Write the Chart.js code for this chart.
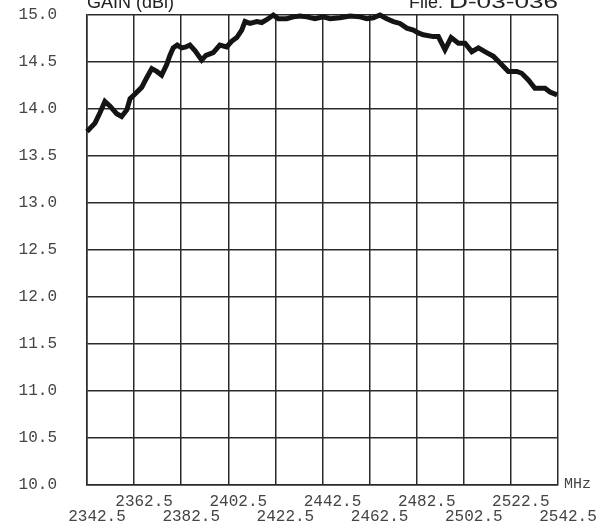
<!DOCTYPE html>
<html>
<head>
<meta charset="utf-8">
<script src="https://cdn.jsdelivr.net/npm/chart.js@4.4.1/dist/chart.umd.min.js"></script>
<style>
  html, body { margin: 0; padding: 0; background: #ffffff; }
  #wrap { width: 601px; height: 528px; }
</style>
</head>
<body>
<div id="wrap"><canvas id="c" width="601" height="528"></canvas></div>
<script>
// Frequency (MHz) of each read point
const FREQ = [
  2342.5, 2345.9, 2348.0, 2350.1, 2352.3, 2355.1, 2357.2, 2359.4, 2360.8, 2362.9,
  2365.7, 2367.8, 2370.0, 2372.1, 2374.2, 2376.3, 2377.7, 2379.1, 2380.8, 2382.7,
  2384.5, 2386.2, 2388.4, 2391.2, 2393.0, 2396.1, 2398.9, 2401.8, 2403.9, 2406.1,
  2408.2, 2409.6, 2411.7, 2414.6, 2416.7, 2418.8, 2421.6, 2423.7, 2427.3, 2430.1,
  2432.9, 2435.8, 2439.3, 2442.8, 2445.7, 2449.9, 2454.2, 2458.4, 2461.3, 2464.1,
  2466.9, 2469.8, 2472.6, 2475.4, 2478.3, 2481.1, 2483.2, 2485.3, 2489.5, 2491.7,
  2494.5, 2497.1, 2500.2, 2503.0, 2505.9, 2508.7, 2512.2, 2515.1, 2517.9, 2521.4,
  2525.0, 2527.1, 2529.9, 2532.7, 2534.9, 2537.0, 2539.1, 2542.1
];
// Gain (dBi) at each read point
const GAIN = [
  13.76, 13.85, 13.96, 14.08, 14.03, 13.95, 13.92, 13.99, 14.11, 14.16,
  14.23, 14.33, 14.43, 14.40, 14.36, 14.47, 14.57, 14.65, 14.68, 14.65,
  14.66, 14.68, 14.62, 14.52, 14.57, 14.60, 14.68, 14.66, 14.72, 14.76,
  14.84, 14.93, 14.91, 14.93, 14.92, 14.95, 15.00, 14.96, 14.96, 14.98,
  14.99, 14.98, 14.96, 14.98, 14.96, 14.97, 14.99, 14.98, 14.96, 14.97,
  15.00, 14.96, 14.93, 14.91, 14.86, 14.84, 14.81, 14.79, 14.77, 14.77,
  14.63, 14.76, 14.70, 14.70, 14.61, 14.65, 14.60, 14.56, 14.49, 14.40,
  14.40, 14.38, 14.31, 14.22, 14.22, 14.22, 14.18, 14.15
];
// X axis tick values (MHz)
const X_TICKS = [2342.5, 2362.5, 2382.5, 2402.5, 2422.5, 2442.5, 2462.5, 2482.5, 2502.5, 2522.5, 2542.5];
// Y axis range / step (dBi)
const Y_MIN = 10.0, Y_MAX = 15.0, Y_STEP = 0.5;

const TITLE_LEFT = 'GAIN (dBi)';
const TITLE_RIGHT_A = 'File:';
const TITLE_RIGHT_B = 'D-03-036';
const X_UNIT = 'MHz';

const points = FREQ.map((f, i) => ({ x: f, y: GAIN[i] }));

const textPlugin = {
  id: 'texts',
  afterDraw(chart) {
    const { ctx, chartArea } = chart;
    ctx.save();
    ctx.fillStyle = '#222222';
    ctx.font = '18px "Liberation Sans", Arial, sans-serif';
    ctx.textBaseline = 'alphabetic';
    ctx.textAlign = 'left';
    ctx.fillText(TITLE_LEFT, chartArea.left, 8);
    // right-hand file label: "D-03-036" set wide, ending at the plot's right edge
    const bW = ctx.measureText(TITLE_RIGHT_B).width;
    const target = 109;
    const bLeft = chartArea.right - target;
    ctx.save();
    ctx.translate(bLeft, 8);
    ctx.scale(target / bW, 1);
    ctx.fillText(TITLE_RIGHT_B, 0, 0);
    ctx.restore();
    ctx.textAlign = 'right';
    ctx.fillText(TITLE_RIGHT_A, bLeft - 6, 8);
    ctx.fillStyle = '#444444';
    ctx.font = '15px "Liberation Mono", "Courier New", monospace';
    ctx.textAlign = 'left';
    ctx.fillText(X_UNIT, chartArea.right + 6, chartArea.bottom + 3);
    ctx.restore();
  }
};

const GRID = '#2a2a2a';
const MONO = '"Liberation Mono", "Courier New", monospace';

new Chart(document.getElementById('c'), {
  type: 'line',
  data: {
    datasets: [{
      data: points,
      borderColor: '#141414',
      borderWidth: 5,
      pointRadius: 0,
      tension: 0,
      fill: false,
      clip: 8
    }]
  },
  options: {
    responsive: false,
    animation: false,
    layout: { padding: { top: 15, right: 43, left: 0, bottom: 0 } },
    plugins: { legend: { display: false }, tooltip: { enabled: false }, title: { display: false } },
    scales: {
      x: {
        type: 'linear',
        min: X_TICKS[0],
        max: X_TICKS[X_TICKS.length - 1],
        afterBuildTicks(scale) { scale.ticks = X_TICKS.map(v => ({ value: v })); },
        afterFit(scale) { scale.height = 43; scale.paddingLeft = 0; scale.paddingRight = 0; },
        grid: { color: GRID, lineWidth: 1.5, drawTicks: false },
        border: { display: true, color: GRID, width: 1.5 },
        ticks: {
          autoSkip: false,
          maxRotation: 0,
          minRotation: 0,
          padding: 9,
          labelOffset: 10,
          color: '#444444',
          font: { family: MONO, size: 16, lineHeight: 0.95 },
          callback(value, index) {
            const s = Number(value).toFixed(1);
            return index % 2 === 0 ? ['', s] : [s, ''];
          }
        }
      },
      y: {
        min: Y_MIN,
        max: Y_MAX,
        afterFit(scale) { scale.width = 87; scale.paddingTop = 0; scale.paddingBottom = 0; },
        grid: { color: GRID, lineWidth: 1.5, drawTicks: false },
        border: { display: true, color: GRID, width: 1.5 },
        ticks: {
          stepSize: Y_STEP,
          padding: 30,
          color: '#444444',
          font: { family: MONO, size: 16 },
          callback(value) { return Number(value).toFixed(1); }
        }
      }
    }
  },
  plugins: [textPlugin]
});
</script>
</body>
</html>
